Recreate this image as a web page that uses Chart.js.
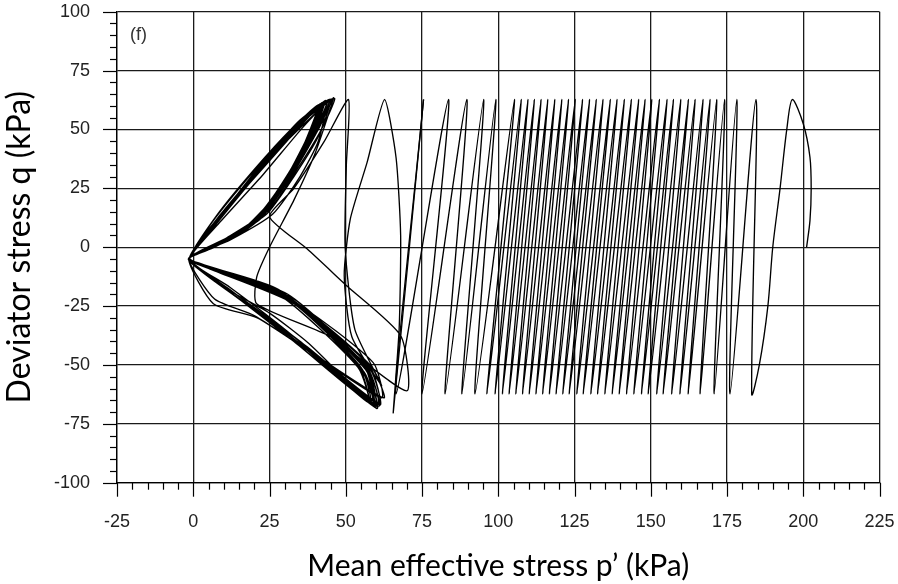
<!DOCTYPE html>
<html>
<head>
<meta charset="utf-8">
<script src="https://cdn.jsdelivr.net/npm/chart.js@4.4.0/dist/chart.umd.min.js"></script>
<style>
html,body{margin:0;padding:0;background:#fff;}
#caja{position:relative;width:898px;height:584px;}
</style>
</head>
<body>
<div id="caja"><canvas id="trayectoria" width="898" height="584"></canvas></div>
<script>
// primer ciclo (carga inicial y primera descarga), p' y q en kPa
var inicioP = [201.1, 202.2, 202.6, 202.2, 200.0, 196.4, 194.6, 192.4, 190.0, 188.4, 185.6, 183.1];
var inicioQ = [0, 11.3, 24.8, 38.2, 52.4, 62.7, 50, 25, 0, -25, -50, -62.3];

// picos de compresion (q = +62.7) y de extension (q = -62.3), ciclo a ciclo
var picosP = [184.5, 178.2, 174.2, 171.6, 169.4, 167.1, 164.5, 162.3, 159.8, 157.4, 155.3, 152.8, 150.3,
              148.1, 146.0, 143.6, 141.3, 138.9, 136.7, 134.3, 132.1, 129.9, 127.6, 125.2, 123.0, 120.8,
              118.5, 116.2, 114.0, 111.8, 109.7, 107.5, 105.3, 99.2, 95.2, 89.7, 83.7, 75.5];
var vallesP = [176.0, 170.8, 166.2, 162.3, 159.6, 156.9, 154.1, 152.0, 149.2, 147.0, 144.5, 142.1, 139.7,
               137.4, 135.0, 132.6, 130.4, 127.9, 125.8, 123.3, 121.2, 119.0, 116.8, 114.6, 112.4, 110.2,
               108.0, 105.8, 103.6, 101.4, 99.0, 96.3, 92.4, 88.1, 82.6, 75.0, 66.5];
var qPico = 62.7;
var qValle = -62.3;

// transicion hacia la movilidad ciclica
var transP = [75.5, 65.6, 67.5, 68.0, 66.5, 62.7, 57.0, 51.5, 49.5, 52.0, 61.8, 53.0, 49.8, 50.2, 50.9,
              43.0, 33.0, 25.0, 37.3, 50.0, 68.0, 70.0, 45.0, 20.8, 20.8, 25.0, 33.0, 40.0];
var transQ = [62.7, -70, -35, 5, 38, 62.7, 36, 12, -12, -38, -58.7, -35, 0, 35, 62.7,
              45, 25, 13, -0.7, -16, -37.5, -61, -38, -24, -12.7, 0, 20, 40];

// lazos "mariposa" cerca del origen
var mariposaP = [46.0, 41, 32, 22, 9, -1.5, 14, 36, 59.7, 57.5, 33, 4, -1.3, 9, 23, 36,
                 44.9, 39, 30, 20, 7, -1.6, 12, 34, 58.5, 56, 30, 3, -1.2, 6, 18, 32,
                 43.3, 38, 29, 19, 6, -1.5, 6.6, 21, 40, 61.8, 59, 34, 5, -1.4, 10, 22, 34,
                 42.5, 37, 27, 17, 5, -1.6, 15, 37, 60.5, 57, 31, 2, -1.3, 5, 17, 30,
                 41.6, 36, 26, 16, 4, -1.5, 10, 25, 38, 59.7, 55, 29, 3, -1.2, 11, 24, 35,
                 41.0, 35, 25, 14, 3, -1.5, 13, 35, 57.4, 54, 28, 2, -1.3, 7, 19, 31,
                 42.0, 37, 28, 18, 5, -1.5, 7, 20, 38, 62.5, 58, 32, 4, -1.2, 12, 25, 36,
                 43.5, 41, 35, 26, 12, -1.5, 14, 36, 60, 56, 30, 3, -1.2, 6, 17, 29,
                 45.5, 40, 31, 21, 8, -1.5, 13, 35, 58, 55, 31, 3, -1.3, 10, 23, 35,
                 44.0, 38, 29, 19, 6, -1.6, 11, 33, 59, 57, 32, 4, -1.2, 8, 20, 33,
                 42.8, 37, 28, 18, 5, -1.5, 14, 37, 61, 58, 33, 4, -1.3, 4, 16, 29,
                 43.8, 39, 30, 20, 7, -1.5, 12, 34, 60.2, 56.5, 30, 3, -1.2, 9, 22, 34,
                 42.2, 36, 27, 17, 5, -1.5, 13, 35, 58.8, 55, 29, 2.5, -1.3, 13, 24, 35,
                 45.0, 41, 33, 24, 10, -1.5, 12, 33, 57.5, 54, 29, 3, -1.3, 7, 19, 33,
                 43.0, 38, 30, 21, 8, -1.5, 14, 37, 61.2, 58, 33, 5, -1.3, 10, 21, 33,
                 46.3, 42, 34, 25, 11, -1.5, 11, 33, 59, 56, 32, 4, -1.2, 8, 20, 32,
                 41.3, 36, 28, 19, 6, -1.5, 15, 38, 60.8, 57, 31, 4, -1.2, 9, 22, 34,
                 44.5, 40, 32, 22, 9, -1.4, 13, 35, 59.5];
var mariposaQ = [63.5, 50, 30, 13, 2, -5, -20, -41, -68, -53, -22, -8, -4.8, 11, 31, 51,
                 62.7, 47, 27, 10, 0, -5.2, -18, -40, -65, -50, -20, -7.5, -4.6, 8, 27, 47,
                 62.3, 46, 26, 9, -0.5, -5, -24, -30, -46, -64, -49, -24, -9, -5, 14, 33, 50,
                 61.5, 44, 23, 7, -1, -5.3, -21, -42, -66, -51, -20, -7, -4.7, 7, 25, 44,
                 60.9, 42, 21, 6, -1.5, -5, -17, -28, -41, -68, -52, -19, -7.5, -4.8, 16, 36, 53,
                 60.0, 40, 19, 5, -2, -5.1, -19, -41, -65, -50, -18, -7, -4.7, 9, 28, 46,
                 61.0, 43, 24, 8, -1, -5, -22, -29, -44, -64, -50, -22, -8, -4.6, 18, 38, 54,
                 61.8, 45, 30, 14, 3, -5, -20, -41, -67.5, -50, -20, -7.5, -4.8, 8, 26, 43,
                 63.0, 49, 29, 11, 1, -5, -19, -40, -66, -51, -21, -7.5, -4.8, 15, 35, 53,
                 62.0, 45, 25, 9, 0, -5.2, -18, -39, -67, -52, -22, -8, -4.6, 11, 30, 49,
                 61.2, 44, 24, 8, -1, -5, -20, -42, -66.5, -51, -23, -8.5, -4.9, 6, 24, 44,
                 61.9, 47, 28, 10, 0.5, -5, -18, -40, -68.5, -52, -20, -7.5, -4.7, 13, 33, 51,
                 60.8, 43, 22, 7, -1, -5.1, -19, -41, -66, -51, -19, -7, -4.7, 20, 38, 54,
                 62.8, 47, 30, 14, 3, -5, -17, -38, -66, -51, -21, -7.5, -4.8, 12, 31, 50,
                 61.5, 44, 26, 11, 1, -5.1, -21, -43, -67, -52, -24, -9, -4.9, 15, 33, 50,
                 63.2, 50, 33, 16, 4, -5, -18, -40, -67, -53, -23, -8, -4.7, 14, 33, 50,
                 60.5, 41, 23, 9, 0, -5, -22, -44, -67.5, -51, -22, -8, -4.7, 14, 34, 52,
                 62.3, 48, 30, 12, 2, -4.8, -19, -41, -68];

var ejeX = {min: -25, max: 225, paso: 25};
var ejeY = {min: -100, max: 100, paso: 25};

function armarPuntos() {
    let recorrido = [];
    inicioP.forEach((p, i) => recorrido.push({x: p, y: inicioQ[i]}));
    picosP.forEach((p, i) => {
        recorrido.push({x: p, y: qPico});
        if (i < vallesP.length) recorrido.push({x: vallesP[i], y: qValle});
    });
    let mariposa = [];
    transP.forEach((p, i) => mariposa.push({x: p, y: transQ[i]}));
    mariposaP.forEach((p, i) => mariposa.push({x: p, y: mariposaQ[i]}));
    return [recorrido, mariposa];
}

function sinRelleno(s) {
    s.paddingLeft = 0; s.paddingRight = 0; s.paddingTop = 0; s.paddingBottom = 0;
}

const marcasEje = {
    id: 'marcasEje',
    afterDraw(chart) {
        const ctx = chart.ctx;
        const area = chart.chartArea;
        const sx = chart.scales.x, sy = chart.scales.y;
        ctx.save();
        ctx.strokeStyle = '#000';
        ctx.lineWidth = 1.2;
        sx.ticks.forEach(t => {
            let px = Math.round(sx.getPixelForValue(t.value)) + 0.5;
            let largo = (t.value % 25 === 0) ? 14 : 7;
            ctx.beginPath(); ctx.moveTo(px, area.bottom); ctx.lineTo(px, area.bottom + largo); ctx.stroke();
        });
        sy.ticks.forEach(t => {
            let py = Math.round(sy.getPixelForValue(t.value)) + 0.5;
            let largo = (t.value % 25 === 0) ? 14 : 7;
            ctx.beginPath(); ctx.moveTo(area.left - largo, py); ctx.lineTo(area.left, py); ctx.stroke();
        });
        ctx.fillStyle = '#333';
        ctx.font = '18px "Liberation Sans", Arial, sans-serif';
        ctx.textBaseline = 'middle';
        ctx.fillText('(f)', area.left + 13, area.top + 23);
        ctx.restore();
    }
};

function llenarGrafica() {
    let [recorrido, mariposa] = armarPuntos();
    let lienzo = document.getElementById('trayectoria').getContext('2d');
    let grafica = new Chart(lienzo, {
        type: 'scatter',
        data: {
            datasets: [{
                data: recorrido,
                showLine: true,
                borderColor: '#000',
                borderWidth: 1.35,
                pointRadius: 0,
                tension: 0.3
            }, {
                data: mariposa,
                showLine: true,
                borderColor: '#000',
                borderWidth: 1.35,
                pointRadius: 0,
                tension: 0.2
            }]
        },
        options: {
            responsive: false,
            animation: false,
            devicePixelRatio: 1,
            layout: {padding: {left: 0, right: 18.5, top: 11.7, bottom: 0}},
            plugins: {legend: {display: false}, tooltip: {enabled: false}},
            scales: {
                x: {
                    type: 'linear',
                    min: ejeX.min, max: ejeX.max,
                    afterFit: s => { s.height = 101.3; sinRelleno(s); },
                    border: {display: true, color: '#000', width: 1.3},
                    grid: {
                        drawTicks: false,
                        lineWidth: 1.3,
                        color: c => (c.tick.value % ejeX.paso === 0) ? '#1a1a1a' : 'rgba(0,0,0,0)'
                    },
                    ticks: {
                        stepSize: 5, autoSkip: false, maxRotation: 0, padding: 29,
                        color: '#222',
                        font: {family: '"Liberation Sans Narrow", "Arial Narrow", sans-serif', size: 18},
                        callback: v => (v % ejeX.paso === 0) ? String(v) : ''
                    },
                    title: {
                        display: true,
                        text: 'Mean effective stress p\u2019 (kPa)',
                        color: '#000',
                        font: {family: 'Lato, "Open Sans", sans-serif', size: 30},
                        padding: {top: 0, bottom: 0}
                    }
                },
                y: {
                    type: 'linear',
                    min: ejeY.min, max: ejeY.max,
                    afterFit: s => { s.width = 117; sinRelleno(s); },
                    border: {display: true, color: '#000', width: 1.3},
                    grid: {
                        drawTicks: false,
                        lineWidth: 1.3,
                        color: c => (c.tick.value % ejeY.paso === 0) ? '#1a1a1a' : 'rgba(0,0,0,0)'
                    },
                    ticks: {
                        stepSize: 5, autoSkip: false, padding: 27,
                        color: '#222',
                        font: {family: '"Liberation Sans Narrow", "Arial Narrow", sans-serif', size: 18},
                        callback: v => (v % ejeY.paso === 0) ? String(v) : ''
                    },
                    title: {
                        display: true,
                        text: 'Deviator stress q (kPa)',
                        color: '#000',
                        font: {family: 'Lato, "Open Sans", sans-serif', size: 32},
                        padding: {top: 0, bottom: 0}
                    }
                }
            }
        },
        plugins: [marcasEje]
    });
}

llenarGrafica();
</script>
</body>
</html>
